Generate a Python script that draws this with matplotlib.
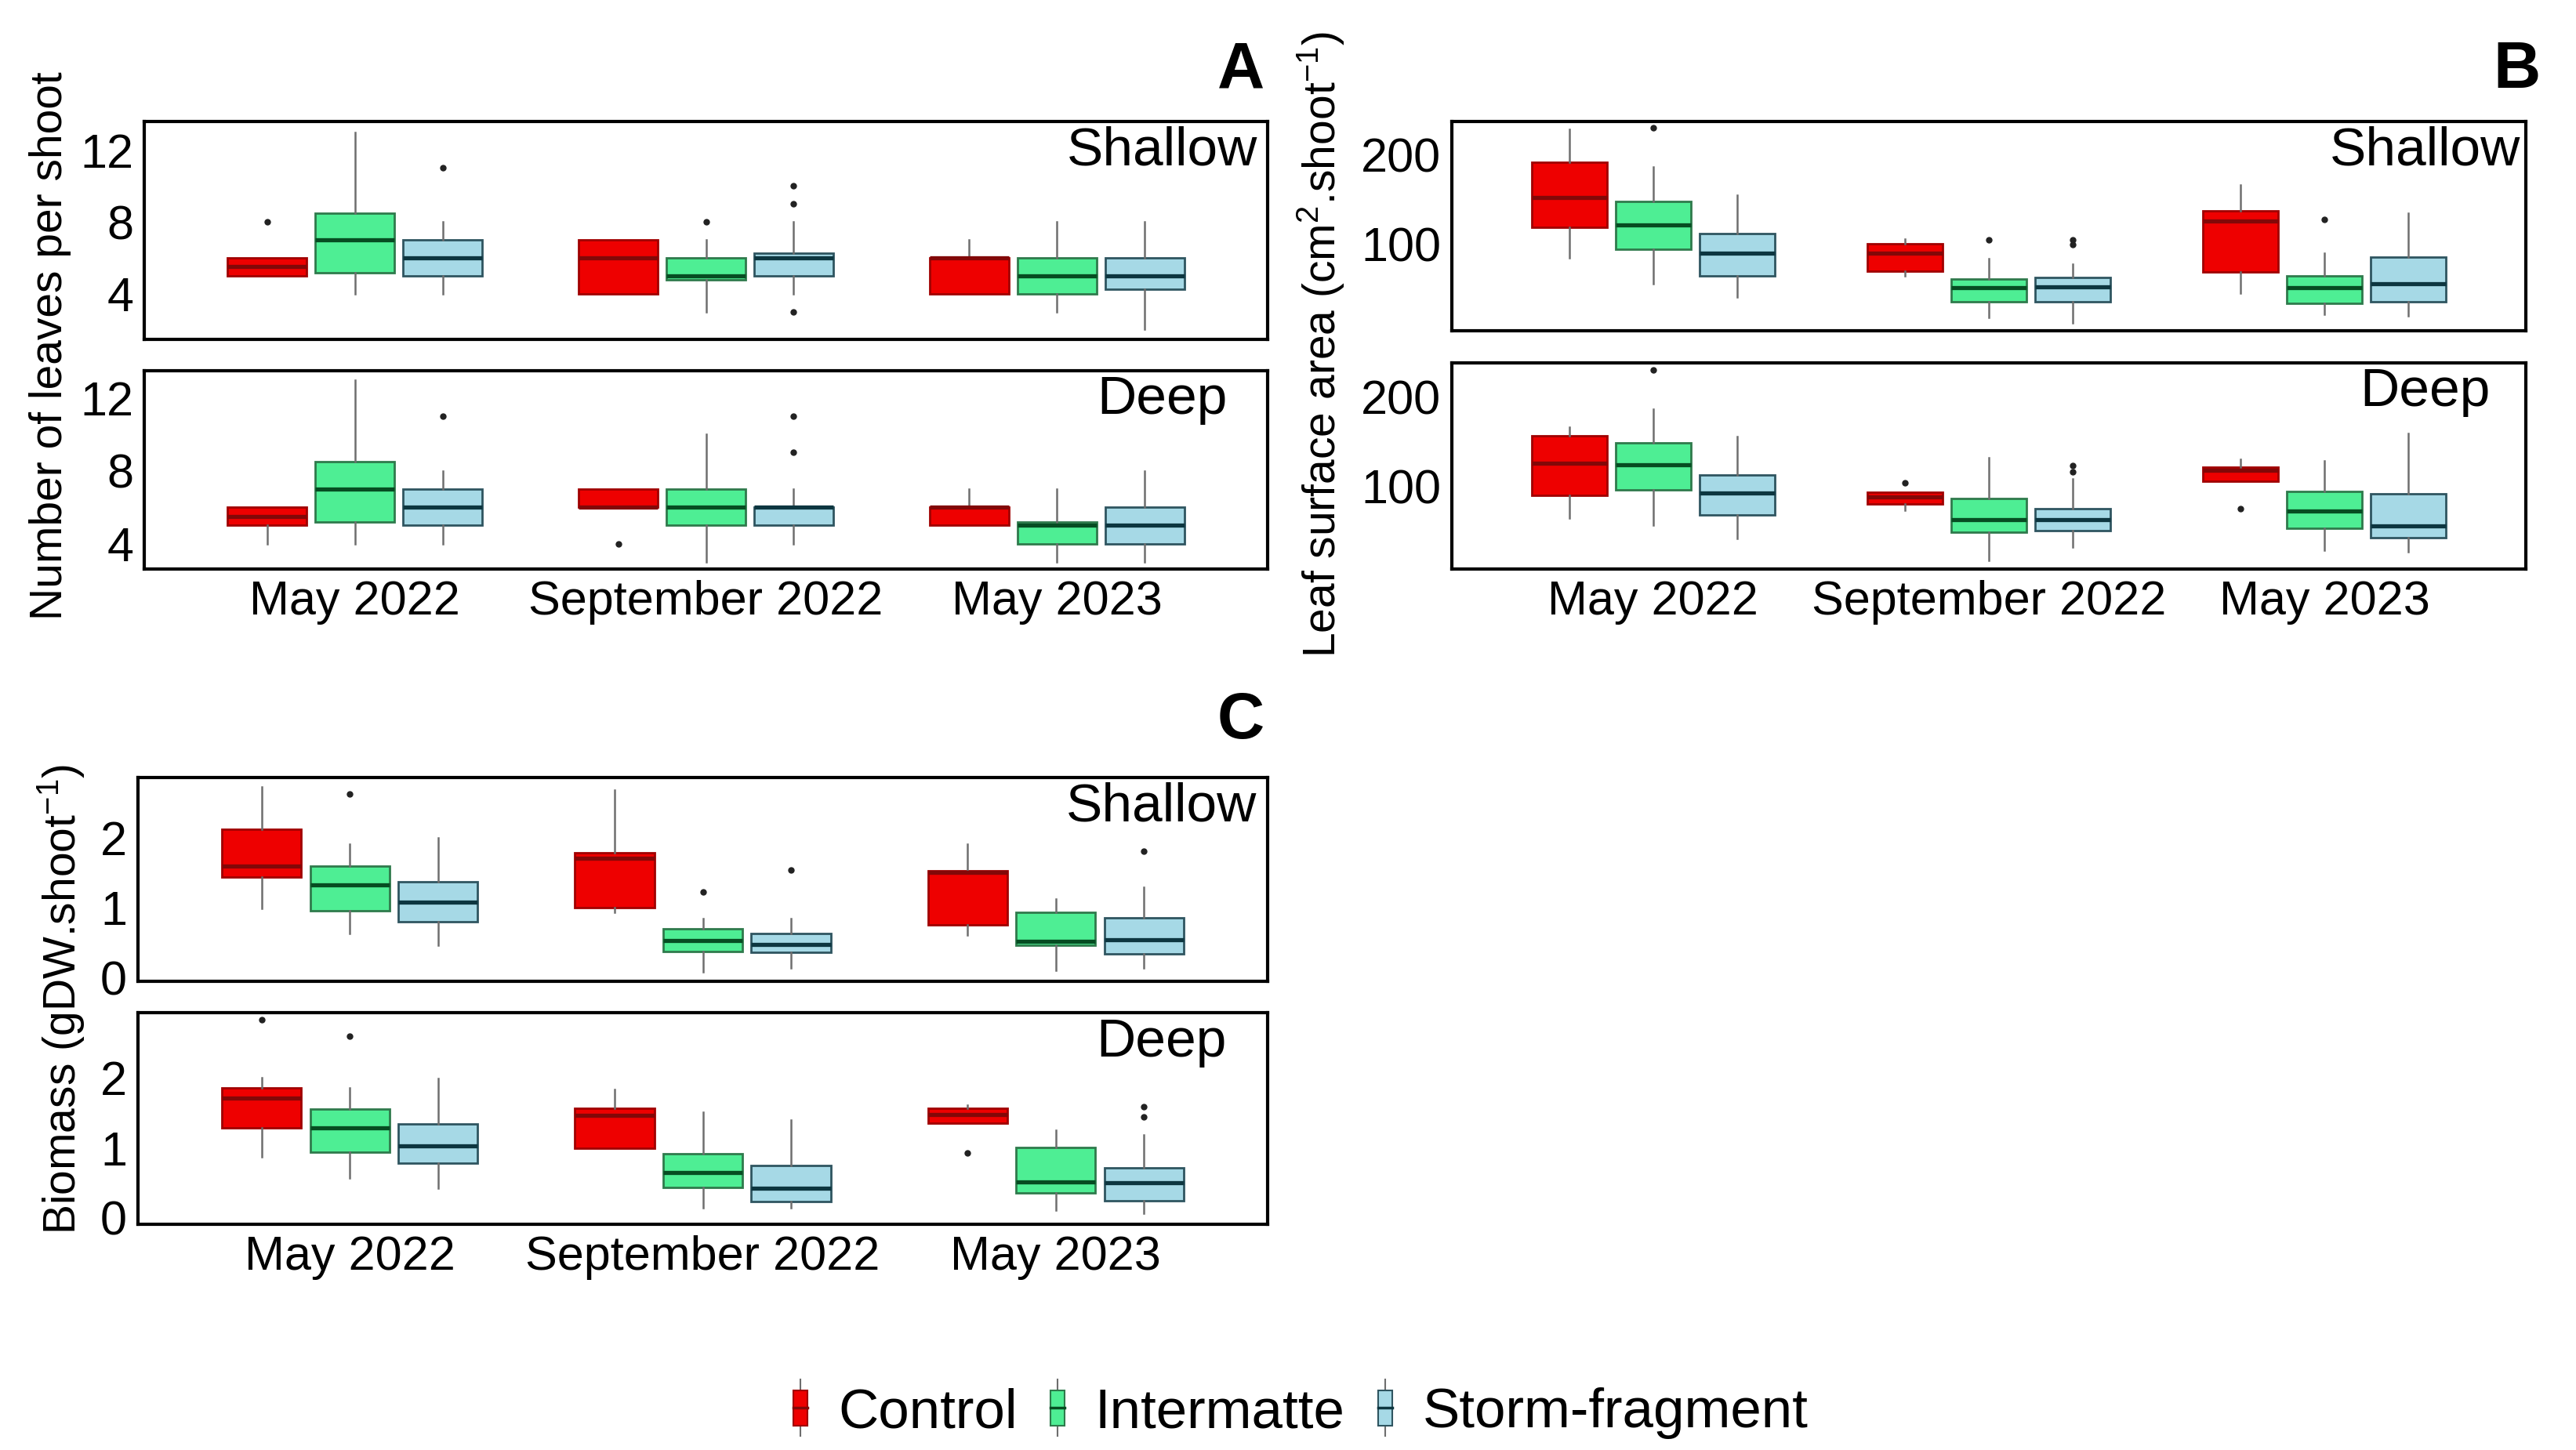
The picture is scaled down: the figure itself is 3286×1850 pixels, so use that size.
import matplotlib
matplotlib.use("Agg")
import matplotlib.pyplot as plt
from matplotlib.legend_handler import HandlerBase
from matplotlib.patches import Rectangle
from matplotlib.lines import Line2D

plt.rcParams['font.family'] = ['Liberation Sans', 'DejaVu Sans']
plt.rcParams['mathtext.fontset'] = 'custom'
plt.rcParams['mathtext.rm'] = 'Liberation Sans'
plt.rcParams['mathtext.it'] = 'Liberation Sans:italic'

# categories
dates = ["May 2022", "September 2022", "May 2023"]
treatments = ["Control", "Intermatte", "Storm-fragment"]

# box stats per date, per treatment: [whisker low, q1, median, q3, whisker high]
leaves_shallow = [
    [[5, 5, 5.5, 6, 6], [4, 5.15, 7, 8.5, 13], [4, 5, 6, 7, 8]],
    [[4, 4, 6, 7, 7], [3, 4.75, 5, 6, 7], [4, 5, 6, 6.25, 8]],
    [[4, 4, 6, 6, 7], [3, 4, 5, 6, 8], [2, 4.25, 5, 6, 8]],
]
leaves_shallow_out = [[[8], [], [11]], [[], [8], [10, 9, 3]], [[], [], []]]

leaves_deep = [
    [[4, 5, 5.5, 6, 6], [4, 5.2, 7, 8.5, 13], [4, 5, 6, 7, 8]],
    [[6, 6, 6, 7, 7], [3, 5, 6, 7, 10], [4, 5, 6, 6, 7]],
    [[5, 5, 6, 6, 7], [3, 4, 5, 5.2, 7], [3, 4, 5, 6, 8]],
]
leaves_deep_out = [[[], [], [11]], [[4], [], [11, 9]], [[], [], []]]

area_shallow = [
    [[85, 119, 153, 192, 229], [56, 95, 122, 148, 187], [41, 65, 90, 112, 155]],
    [[65, 70, 90, 101, 106], [18, 36, 52, 61, 84], [12, 36, 53, 63, 78]],
    [[46, 69, 126, 138, 167], [22, 34, 52, 65, 90], [20, 36, 56, 86, 135]],
]
area_shallow_out = [[[], [231], []], [[], [105], [105, 100]], [[], [128], []]]

area_deep = [
    [[64, 90, 126, 156, 166], [56, 96, 124, 148, 186], [41, 68, 92, 112, 155]],
    [[73, 80, 88, 93, 93], [17, 48, 62, 86, 132], [32, 50, 62, 75, 108]],
    [[105, 105, 118, 121, 130], [28, 53, 72, 94, 128], [26, 42, 55, 91, 159]],
]
area_deep_out = [[[], [230], []], [[104], [], [123, 116]], [[75], [], []]]

biomass_shallow = [
    [[0.99, 1.44, 1.59, 2.12, 2.73], [0.63, 0.96, 1.33, 1.59, 1.91], [0.47, 0.80, 1.08, 1.37, 2.0]],
    [[0.94, 1.0, 1.71, 1.79, 2.68], [0.08, 0.38, 0.53, 0.70, 0.85], [0.14, 0.36, 0.48, 0.63, 0.85]],
    [[0.61, 0.76, 1.51, 1.53, 1.91], [0.11, 0.47, 0.52, 0.93, 1.13], [0.14, 0.34, 0.54, 0.86, 1.29]],
]
biomass_shallow_out = [[[], [2.62], []], [[], [1.23], [1.54]], [[], [], [1.81]]]

biomass_deep = [
    [[0.87, 1.29, 1.71, 1.86, 2.0], [0.57, 0.94, 1.29, 1.55, 1.86], [0.42, 0.78, 1.03, 1.34, 1.99]],
    [[1.0, 1.0, 1.47, 1.56, 1.83], [0.15, 0.44, 0.65, 0.92, 1.51], [0.15, 0.23, 0.43, 0.75, 1.40]],
    [[1.35, 1.35, 1.48, 1.56, 1.61], [0.11, 0.36, 0.51, 1.01, 1.25], [0.07, 0.25, 0.50, 0.72, 1.18]],
]
biomass_deep_out = [[[2.83], [2.59], []], [[], [], []], [[0.93], [], [1.59, 1.44]]]

FILL = ["#ee0000", "#4eee94", "#a6d9e6"]
EDGE = ["#a00000", "#2f7a4c", "#2f5560"]
MED = ["#820808", "#064d22", "#0d3640"]
OFFSETS = [-0.25, 0.0, 0.25]

W, H = 3286, 1850
fig = plt.figure(figsize=(W / 100, H / 100), dpi=100)


def add_ax(left, top, right, bottom):
    return fig.add_axes([left / W, 1 - bottom / H, (right - left) / W, (bottom - top) / H])


def draw_panel(ax, rows, outliers, ylim, yticks, label, show_x):
    for t in range(3):
        stats = []
        for d in range(3):
            lo, q1, med, q3, hi = rows[d][t]
            stats.append(dict(whislo=lo, q1=q1, med=med, q3=q3, whishi=hi,
                              fliers=outliers[d][t]))
        ax.bxp(stats, positions=[d + 1 + OFFSETS[t] for d in range(3)],
               widths=0.225, patch_artist=True, showcaps=False,
               boxprops=dict(facecolor=FILL[t], edgecolor=EDGE[t], linewidth=2.0),
               medianprops=dict(color=MED[t], linewidth=3.8, solid_capstyle='butt'),
               whiskerprops=dict(color='#6e6e6e', linewidth=1.8),
               flierprops=dict(marker='o', markersize=5, markerfacecolor='#222222',
                               markeredgecolor='#222222'))
    ax.set_xlim(0.4, 3.6)
    ax.set_ylim(*ylim)
    ax.set_yticks(yticks)
    ax.set_yticklabels([str(v) for v in yticks])
    ax.set_xticks([1, 2, 3])
    if show_x:
        ax.set_xticklabels(dates)
    else:
        ax.set_xticklabels([])
    ax.tick_params(length=0, labelsize=44, pad=10, colors='black')
    for s in ax.spines.values():
        s.set_linewidth(3.0)
        s.set_color('black')
    ax.annotate(label, xy=(0.906, 1), xycoords='axes fraction', xytext=(0, -27),
                textcoords='offset points', ha='center', va='center', fontsize=50)


# panel A
axA1 = add_ax(184, 155, 1617, 433)
axA2 = add_ax(184, 473, 1617, 726)
draw_panel(axA1, leaves_shallow, leaves_shallow_out, (1.45, 13.6), [4, 8, 12], "Shallow", False)
draw_panel(axA2, leaves_deep, leaves_deep_out, (2.6, 13.5), [4, 8, 12], "Deep", True)

# panel B
axB1 = add_ax(1852, 155, 3222, 422)
axB2 = add_ax(1852, 463, 3222, 726)
draw_panel(axB1, area_shallow, area_shallow_out, (3.5, 237.7), [100, 200], "Shallow", False)
draw_panel(axB2, area_deep, area_deep_out, (7, 238), [100, 200], "Deep", True)

# panel C
axC1 = add_ax(176, 992, 1617, 1252)
axC2 = add_ax(176, 1292, 1617, 1562)
draw_panel(axC1, biomass_shallow, biomass_shallow_out, (-0.05, 2.86), [0, 1, 2], "Shallow", False)
draw_panel(axC2, biomass_deep, biomass_deep_out, (-0.09, 2.93), [0, 1, 2], "Deep", True)

# axis titles
fig.text(64 / W, 1 - 441 / H, "Number of leaves per shoot", rotation=90,
         ha='center', va='center', fontsize=41)
fig.text(1685 / W, 1 - 440 / H, r"Leaf surface area (cm$^2$.shoot$^{-1}$)", rotation=90,
         ha='center', va='center', fontsize=41)
fig.text(78 / W, 1 - 1275 / H, r"Biomass (gDW.shoot$^{-1}$)", rotation=90,
         ha='center', va='center', fontsize=41)

# panel letters
fig.text(1583 / W, 1 - 90 / H, "A", ha='center', va='center', fontsize=60, fontweight='bold')
fig.text(3210 / W, 1 - 90 / H, "B", ha='center', va='center', fontsize=60, fontweight='bold')
fig.text(1583 / W, 1 - 920 / H, "C", ha='center', va='center', fontsize=60, fontweight='bold')


class BoxHandler(HandlerBase):
    def create_artists(self, legend, orig_handle, xdescent, ydescent, width, height,
                       fontsize, trans):
        i = orig_handle
        cx = width / 2 - xdescent
        bw = width
        y0 = -ydescent
        whisk = Line2D([cx, cx], [y0 - 0.3 * height, y0 + 1.3 * height],
                       color='#6e6e6e', lw=1.5, transform=trans)
        box = Rectangle((cx - bw / 2, y0), bw, height, facecolor=FILL[i],
                        edgecolor=EDGE[i], lw=1.5, transform=trans)
        med = Line2D([cx - bw / 2, cx + bw / 2], [y0 + height / 2] * 2,
                     color=MED[i], lw=2.5, transform=trans)
        return [whisk, box, med]


fig.legend([0, 1, 2], treatments, handler_map={int: BoxHandler()},
           loc='center', bbox_to_anchor=(0.505, 1 - 1803 / H), ncol=3, frameon=False,
           fontsize=51, handlelength=0.25, handleheight=0.6, handletextpad=0.55,
           columnspacing=0.6)

fig.savefig("out.png", dpi=100, facecolor='white')
